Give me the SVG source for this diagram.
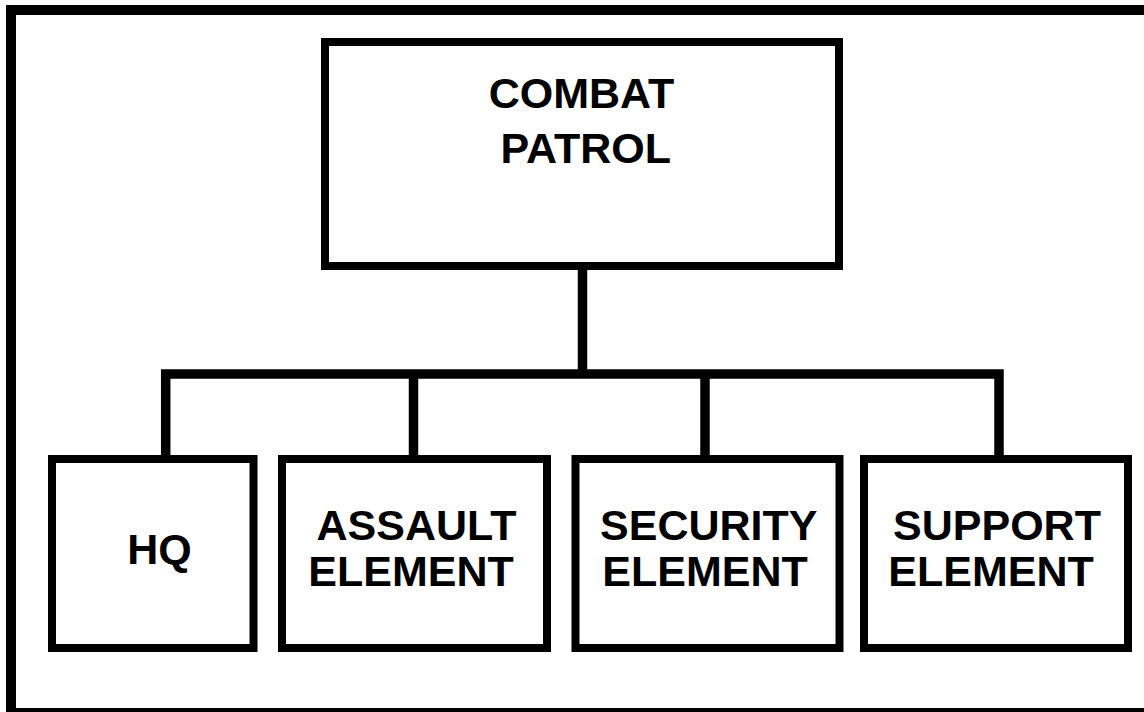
<svg xmlns="http://www.w3.org/2000/svg" width="1144" height="712" viewBox="0 0 1144 712">
<style>
.box{fill:#fff;stroke:#000;stroke-width:8}
.conn{fill:none;stroke:#000;stroke-width:9.5;stroke-linecap:butt;stroke-linejoin:miter}
.lbl{font-family:"Liberation Sans",Arial,sans-serif;font-weight:bold;font-size:43px;fill:#000;text-anchor:middle}
</style>
<rect x="0" y="0" width="1144" height="712" fill="#fff"/>
<rect id="frame" x="11" y="10" width="1150" height="703" fill="none" stroke="#000" stroke-width="10"/>
<g id="connectors">
<line class="conn" x1="582.5" y1="266" x2="582.5" y2="374"/>
<polyline class="conn" points="165.7,459 165.7,374 999,374 999,459"/>
<line class="conn" x1="413.5" y1="374" x2="413.5" y2="459"/>
<line class="conn" x1="705" y1="374" x2="705" y2="459"/>
</g>
<g id="combat-patrol">
<rect class="box" x="325" y="42" width="514" height="224"/>
<text class="lbl" x="581.5" y="108">COMBAT</text>
<text class="lbl" x="585.8" y="163">PATROL</text>
</g>
<g id="hq">
<rect class="box" x="52" y="459" width="201.5" height="189"/>
<text class="lbl" x="159.5" y="564">HQ</text>
</g>
<g id="assault">
<rect class="box" x="282" y="459" width="265" height="189"/>
<text class="lbl" x="416.5" y="540">ASSAULT</text>
<text class="lbl" x="411" y="586">ELEMENT</text>
</g>
<g id="security">
<rect class="box" x="575.5" y="459" width="264" height="189"/>
<text class="lbl" x="708.8" y="540">SECURITY</text>
<text class="lbl" x="705" y="586">ELEMENT</text>
</g>
<g id="support">
<rect class="box" x="864" y="459" width="264" height="189"/>
<text class="lbl" x="997" y="540">SUPPORT</text>
<text class="lbl" x="991" y="586">ELEMENT</text>
</g>
</svg>
